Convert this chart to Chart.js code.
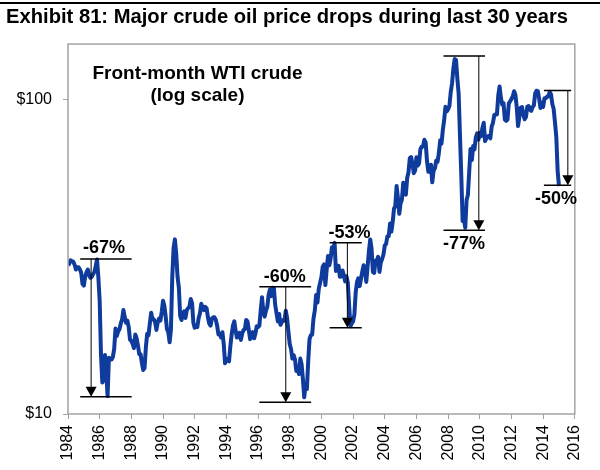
<!DOCTYPE html>
<html>
<head>
<meta charset="utf-8">
<script src="https://cdn.jsdelivr.net/npm/chart.js@4.4.0/dist/chart.umd.min.js"></script>
<style>
  html, body { margin: 0; padding: 0; background: #fff; overflow: hidden; }
  #oilChart { display: block; }
</style>
</head>
<body>
<canvas id="oilChart" width="600" height="470"></canvas>
<script>
// Front-month WTI, monthly averages (USD/bbl), Jan 1984 .. Jan 2015
const startYear = 1984;
const prices1984to1993 = [
  29.7, 30.1, 30.8, 30.6, 30.5, 29.8, 28.8, 29.3, 29.3, 28.8, 28.1, 25.9,
  25.6, 27.3, 28.2, 28.8, 27.6, 27.1, 27.3, 27.8, 28.3, 29.5, 31.0, 27.2,
  22.9, 15.4, 12.6, 12.8, 15.4, 13.5, 11.4, 15.1, 14.9, 14.9, 15.2, 16.1,
  18.7, 17.7, 18.3, 18.6, 19.4, 20.0, 21.4, 20.3, 19.5, 19.8, 18.9, 17.2,
  17.1, 16.7, 16.2, 17.9, 17.4, 16.5, 15.5, 15.5, 14.5, 13.8, 14.0, 16.3,
  18.0, 17.8, 19.4, 21.0, 20.0, 20.0, 19.6, 18.5, 19.6, 20.1, 19.8, 21.1,
  22.9, 22.1, 20.4, 18.6, 18.2, 16.9, 18.6, 27.2, 33.7, 35.9, 32.3, 27.3,
  25.2, 20.5, 19.9, 20.8, 21.2, 20.2, 21.4, 21.7, 21.9, 23.2, 22.5, 19.5,
  18.8, 19.0, 18.9, 20.2, 20.9, 22.4, 21.8, 21.4, 21.9, 21.7, 20.3, 19.4,
  19.1, 20.1, 20.3, 20.3, 19.9, 19.1, 17.9, 18.0, 17.5, 18.2, 16.7, 14.5
];
const prices1994to2003 = [
  15.0, 14.8, 14.7, 16.4, 17.9, 19.1, 19.7, 18.4, 17.5, 17.7, 18.1, 17.2,
  18.0, 18.5, 18.6, 19.9, 19.7, 18.5, 17.3, 18.0, 18.2, 17.4, 18.0, 19.0,
  18.9, 19.1, 21.3, 23.5, 21.2, 20.4, 21.3, 21.9, 23.9, 24.9, 23.7, 25.2,
  25.1, 22.2, 20.9, 19.7, 20.8, 19.2, 19.6, 19.9, 19.8, 21.3, 20.2, 18.3,
  16.7, 16.1, 15.0, 15.4, 14.9, 13.7, 14.1, 13.4, 15.0, 14.4, 12.9, 11.3,
  12.5, 12.0, 14.7, 17.3, 17.8, 17.9, 20.1, 21.3, 23.9, 22.6, 25.0, 26.1,
  27.2, 29.4, 29.9, 25.7, 28.8, 31.8, 29.7, 31.2, 33.9, 33.1, 35.0, 28.5,
  29.6, 29.6, 27.3, 27.4, 28.6, 27.6, 26.4, 27.4, 26.2, 22.2, 19.0, 19.4,
  19.7, 20.7, 24.4, 26.3, 27.0, 25.5, 26.9, 28.4, 29.7, 28.9, 26.3, 29.4,
  32.9, 35.9, 33.6, 28.3, 28.1, 30.7, 30.8, 31.6, 28.3, 30.3, 31.1, 32.1
];
const prices2004to2015 = [
  34.3, 34.7, 36.7, 36.7, 40.3, 38.0, 40.7, 44.9, 45.9, 53.1, 48.5, 43.3,
  46.8, 48.0, 54.3, 53.0, 49.8, 56.3, 58.7, 65.0, 65.6, 62.4, 58.3, 59.4,
  65.5, 61.6, 62.7, 69.4, 70.8, 70.9, 74.4, 73.0, 63.8, 58.9, 59.1, 62.0,
  54.5, 59.3, 60.4, 63.9, 63.4, 67.5, 74.1, 72.4, 79.9, 85.8, 94.8, 91.7,
  93.0, 95.4, 105.5, 112.6, 125.4, 134.5, 133.4, 116.7, 104.1, 76.6, 57.3, 41.1,
  41.7, 39.1, 47.9, 49.7, 59.0, 69.6, 64.2, 71.1, 69.4, 75.7, 78.0, 74.5,
  78.3, 76.4, 81.2, 84.3, 73.7, 75.3, 76.3, 76.6, 75.2, 81.9, 84.3, 89.2,
  89.6, 89.6, 102.9, 110.0, 101.3, 96.3, 97.3, 86.3, 85.5, 86.3, 97.2, 98.6,
  100.3, 102.2, 106.2, 103.3, 94.7, 82.3, 87.9, 94.1, 94.5, 89.5, 86.5, 87.9,
  94.8, 95.3, 92.9, 92.0, 94.5, 95.8, 104.6, 106.6, 106.3, 100.5, 93.9, 97.6,
  94.6, 100.8, 100.8, 102.1, 102.2, 105.8, 103.6, 96.5, 93.2, 84.4, 75.8, 59.3,
  53.0
];

// axis settings
const xRange = [1984, 2016];
const yRange = [10, 150];
const yTicks = [10, 100];

// drop annotations in data units: years and prices
const dropLabels = ['-67%', '-60%', '-53%', '-77%', '-50%'];
const dropFromYear = [1984.77, 1996.08, 2000.52, 2007.71, 2014.05];
const dropToYear   = [1988.02, 1999.35, 2002.55, 2010.33, 2015.77];
const dropArrowYear = [1985.46, 1997.75, 2001.64, 2009.94, 2015.56];
const dropHigh = [31.1, 25.4, 35.0, 137.5, 106.8];
const dropLow  = [11.35, 10.9, 18.8, 38.4, 53.4];
const dropLabelYear  = [1986.27, 1997.69, 2001.77, 2009.0, 2014.81];
const dropLabelPrice = [34.0, 27.4, 37.8, 34.9, 48.5];

const allPrices = prices1984to1993.concat(prices1994to2003, prices2004to2015);
const points = allPrices.map((p, i) => ({ x: startYear + i / 12, y: p }));

const FONT = "'Liberation Sans', Arial, Helvetica, sans-serif";

const decorPlugin = {
  id: 'decor',
  beforeDraw(chart) {
    const c = chart.ctx;
    c.save();
    c.fillStyle = '#fff';
    c.fillRect(0, 0, chart.width, chart.height);
    // rule above the title
    c.fillStyle = '#000';
    c.fillRect(0, 2, chart.width, 2);
    c.restore();
  },
  afterDatasetsDraw(chart) {
    const c = chart.ctx;
    const xs = chart.scales.x, ys = chart.scales.y;
    const area = chart.chartArea;
    c.save();
    // plot frame
    c.strokeStyle = '#a3a3a3';
    c.lineWidth = 1.5;
    c.strokeRect(area.left, area.top, area.right - area.left, area.bottom - area.top);

    dropLabels.forEach((lab, i) => {
      const x0 = xs.getPixelForValue(dropFromYear[i]);
      const x1 = xs.getPixelForValue(dropToYear[i]);
      const xa = xs.getPixelForValue(dropArrowYear[i]);
      const yh = ys.getPixelForValue(dropHigh[i]);
      const yl = ys.getPixelForValue(dropLow[i]);
      c.strokeStyle = '#000';
      c.lineWidth = 1.5;
      c.beginPath();
      c.moveTo(x0, yh); c.lineTo(x1, yh);
      c.moveTo(x0, yl); c.lineTo(x1, yl);
      c.stroke();
      c.lineWidth = 1;
      c.beginPath();
      c.moveTo(xa, yh); c.lineTo(xa, yl - 9);
      c.stroke();
      c.fillStyle = '#000';
      c.beginPath();
      c.moveTo(xa - 5.5, yl - 10);
      c.lineTo(xa + 5.5, yl - 10);
      c.lineTo(xa, yl);
      c.closePath();
      c.fill();
      c.font = 'bold 18px ' + FONT;
      c.textAlign = 'center';
      c.textBaseline = 'middle';
      c.fillText(lab, xs.getPixelForValue(dropLabelYear[i]), ys.getPixelForValue(dropLabelPrice[i]) + 1);
    });

    // inner caption
    c.font = 'bold 19px ' + FONT;
    c.textAlign = 'center';
    c.textBaseline = 'alphabetic';
    c.fillStyle = '#000';
    c.fillText('Front-month WTI crude', 197.5, 79);
    c.fillText('(log scale)', 197.5, 101);
    c.restore();
  }
};

const ctx = document.getElementById('oilChart').getContext('2d');
const oilChart = new Chart(ctx, {
  type: 'line',
  data: {
    datasets: [{
      data: points,
      borderColor: '#0f3b9c',
      borderWidth: 4,
      borderJoinStyle: 'round',
      pointRadius: 0,
      tension: 0,
      fill: false
    }]
  },
  options: {
    responsive: false,
    animation: false,
    devicePixelRatio: 1,
    layout: { padding: { left: 6, right: 20, top: 0, bottom: 0 } },
    plugins: {
      legend: { display: false },
      tooltip: { enabled: false },
      title: {
        display: true,
        text: 'Exhibit 81: Major crude oil price drops during last 30 years',
        align: 'start',
        color: '#000',
        font: { family: FONT, size: 20.2, weight: 'bold' },
        padding: { top: 5, bottom: 14.8 }
      }
    },
    scales: {
      x: {
        type: 'linear',
        min: xRange[0],
        max: xRange[1],
        afterFit(scale) { scale.height = 56; },
        grid: { drawOnChartArea: false, drawTicks: true, tickLength: 5, color: '#a3a3a3' },
        border: { display: false },
        ticks: {
          stepSize: 2,
          autoSkip: false,
          maxRotation: 90,
          minRotation: 90,
          padding: 6,
          color: '#000',
          font: { family: FONT, size: 16 },
          callback: v => String(v)
        }
      },
      y: {
        type: 'logarithmic',
        min: yRange[0],
        max: yRange[1],
        afterFit(scale) { scale.width = 62; },
        afterBuildTicks(scale) { scale.ticks = yTicks.map(v => ({ value: v })); },
        grid: { drawOnChartArea: false, drawTicks: true, tickLength: 5, color: '#a3a3a3' },
        border: { display: false },
        ticks: {
          padding: 11,
          color: '#000',
          font: { family: FONT, size: 16 },
          callback: v => '$' + v
        }
      }
    }
  },
  plugins: [decorPlugin]
});
</script>
</body>
</html>
